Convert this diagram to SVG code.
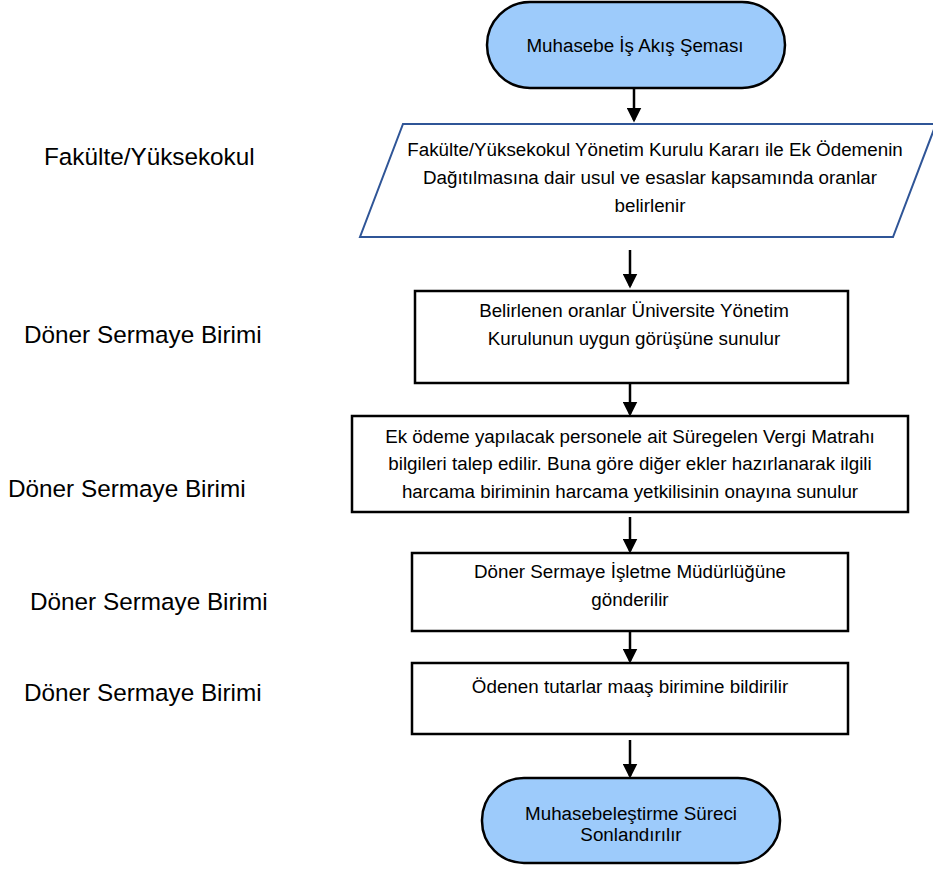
<svg xmlns="http://www.w3.org/2000/svg" width="933" height="872" viewBox="0 0 933 872">
<style>
text{font-family:"Liberation Sans",Arial,sans-serif;fill:#000}
.t{font-size:18.8px;text-anchor:middle}
.lab{font-size:24.3px}
.term{fill:#9DCBFB;stroke:#000;stroke-width:2.5}
.box{fill:#fff;stroke:#000;stroke-width:2.5}
.para{fill:#fff;stroke:#2F5597;stroke-width:2}
.conn line{stroke:#000;stroke-width:2.5}
</style>
<defs>
<marker id="ah" markerWidth="6" markerHeight="6" refX="5" refY="3" orient="auto" markerUnits="strokeWidth">
<path d="M0,0 L6,3 L0,6 z" fill="#000"/>
</marker>
</defs>
<rect width="933" height="872" fill="#fff"/>
<g id="labels">
<text class="lab" x="44" y="165">Fakülte/Yüksekokul</text>
<text class="lab" x="24" y="343">Döner Sermaye Birimi</text>
<text class="lab" x="8" y="497">Döner Sermaye Birimi</text>
<text class="lab" x="30" y="610">Döner Sermaye Birimi</text>
<text class="lab" x="24" y="701">Döner Sermaye Birimi</text>
</g>
<g id="start">
<rect class="term" x="487" y="2" width="298" height="86" rx="43" ry="43"/>
<text class="t" x="635" y="52">Muhasebe İş Akış Şeması</text>
</g>
<g id="step1">
<polygon class="para" points="403,124 936,124 893,237 360,237"/>
<text class="t" x="655" y="156">Fakülte/Yüksekokul Yönetim Kurulu Kararı ile Ek Ödemenin</text>
<text class="t" x="650" y="184">Dağıtılmasına dair usul ve esaslar kapsamında oranlar</text>
<text class="t" x="650" y="212">belirlenir</text>
</g>
<g id="step2">
<rect class="box" x="415" y="291" width="433" height="92"/>
<text class="t" x="634" y="317">Belirlenen oranlar Üniversite Yönetim</text>
<text class="t" x="634" y="345">Kurulunun uygun görüşüne sunulur</text>
</g>
<g id="step3">
<rect class="box" x="352" y="416" width="556" height="96"/>
<text class="t" x="630" y="443">Ek ödeme yapılacak personele ait Süregelen Vergi Matrahı</text>
<text class="t" x="630" y="470">bilgileri talep edilir. Buna göre diğer ekler hazırlanarak ilgili</text>
<text class="t" x="630" y="498">harcama biriminin harcama yetkilisinin onayına sunulur</text>
</g>
<g id="step4">
<rect class="box" x="412" y="553" width="436" height="78"/>
<text class="t" x="630" y="578">Döner Sermaye İşletme Müdürlüğüne</text>
<text class="t" x="630" y="606">gönderilir</text>
</g>
<g id="step5">
<rect class="box" x="412" y="663" width="436" height="71"/>
<text class="t" x="630" y="693">Ödenen tutarlar maaş birimine bildirilir</text>
</g>
<g id="end">
<rect class="term" x="482" y="778" width="298" height="85" rx="42" ry="42"/>
<text class="t" x="631" y="820">Muhasebeleştirme Süreci</text>
<text class="t" x="631" y="841">Sonlandırılır</text>
</g>
<g class="conn" id="connectors">
<line x1="634" y1="88" x2="634" y2="120" marker-end="url(#ah)"/>
<line x1="630" y1="250" x2="630" y2="286" marker-end="url(#ah)"/>
<line x1="630" y1="383" x2="630" y2="414" marker-end="url(#ah)"/>
<line x1="630" y1="517" x2="630" y2="551" marker-end="url(#ah)"/>
<line x1="630" y1="631" x2="630" y2="661" marker-end="url(#ah)"/>
<line x1="630" y1="740" x2="630" y2="776" marker-end="url(#ah)"/>
</g>
</svg>
